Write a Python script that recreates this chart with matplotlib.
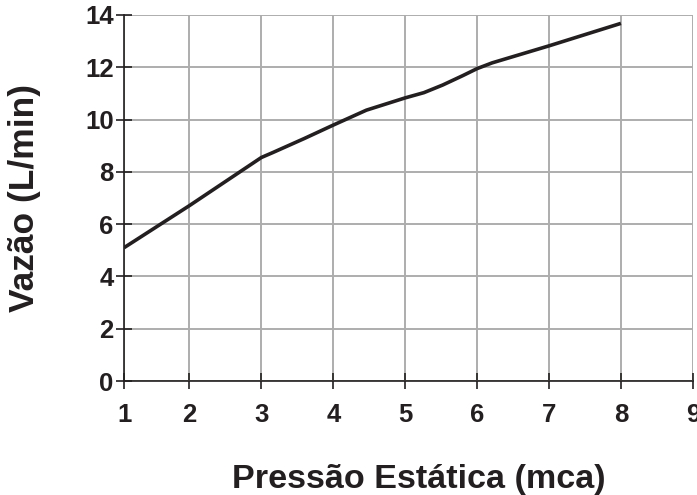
import numpy as np
import matplotlib
matplotlib.use("Agg")
import matplotlib.pyplot as plt

pressure = [1.0, 2.0, 3.0, 3.16, 3.6, 4.0, 4.46, 5.0, 5.26, 5.52, 5.8, 6.0, 6.21, 7.0, 8.0]
flow = [5.1, 6.71, 8.55, 8.74, 9.28, 9.79, 10.36, 10.83, 11.03, 11.32, 11.68, 11.95, 12.17, 12.82, 13.68]
x_ticks = [1, 2, 3, 4, 5, 6, 7, 8, 9]
y_ticks = [0, 2, 4, 6, 8, 10, 12, 14]

plt.rcParams['font.family'] = ['Liberation Sans', 'DejaVu Sans']
plt.rcParams['font.weight'] = 'bold'

fig = plt.figure(figsize=(6.97, 4.95), dpi=100)
ax = fig.add_axes([0.178, 0.2303, 0.816, 0.7394])

SHR = 0.91
def fwd(x):
    x = np.asarray(x, dtype=float)
    return np.where(x < 2, 2 - (2 - x) * SHR, x)
def inv(u):
    u = np.asarray(u, dtype=float)
    return np.where(u < 2, 2 - (2 - u) / SHR, u)
ax.set_xscale('function', functions=(fwd, inv))

ax.plot(pressure, flow, color='#231f20', lw=2.6, solid_capstyle='butt',
        solid_joinstyle='round', zorder=3)

ax.set_xlim(1, 9)
ax.set_ylim(0, 14)
ax.set_xticks(x_ticks)
ax.set_yticks(y_ticks)
ax.set_xticklabels([str(v) for v in x_ticks])
ax.set_yticklabels([str(v) for v in y_ticks])
ax.grid(True, color='#adadad', lw=1.4, zorder=0)
ax.set_axisbelow(True)

for s in ['top', 'right']:
    ax.spines[s].set_visible(False)
for s in ['left', 'bottom']:
    ax.spines[s].set_color('#231f20')
    ax.spines[s].set_linewidth(1.2)
    ax.spines[s].set_zorder(4)

ax.tick_params(axis='both', direction='inout', length=11, width=1.2, color='#231f20',
               labelsize=18.5, labelcolor='#231f20')
ax.tick_params(axis='x', pad=10)
ax.tick_params(axis='y', pad=2)
for lab in ax.get_xticklabels() + ax.get_yticklabels():
    lab.set_fontweight('bold')

ax.set_xlabel('Pressão Estática (mca)', fontsize=24.6, fontweight='bold', color='#231f20', labelpad=27)
ax.xaxis.label.set_x(0.519)
ax.set_ylabel('Vazão (L/min)', fontsize=25.5, fontweight='bold', color='#231f20', labelpad=32)

fig.savefig('out.png', dpi=100)
